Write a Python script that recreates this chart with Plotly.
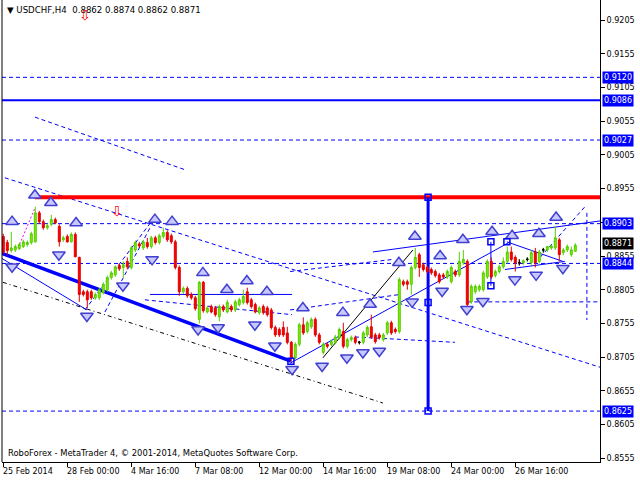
import plotly.graph_objects as go

# ---------------- data ----------------
bar_index = list(range(144))
opens = [0.8884, 0.8875, 0.8863, 0.8864, 0.8866, 0.8869, 0.8872, 0.8875, 0.8876, 0.8919,
         0.8906, 0.8897, 0.8902, 0.8909, 0.8899, 0.8879, 0.8884, 0.8876, 0.8887, 0.8853,
         0.8802, 0.8802, 0.8802, 0.8793, 0.8793, 0.8801, 0.8805, 0.8823, 0.8827, 0.8841,
         0.8838, 0.8847, 0.8838, 0.8864, 0.8873, 0.8867, 0.8875, 0.8869, 0.8882, 0.8875,
         0.8884, 0.8890, 0.8885, 0.8876, 0.8838, 0.8802, 0.8807, 0.8798, 0.8793, 0.8761,
         0.8816, 0.8772, 0.8780, 0.8778, 0.8765, 0.8780, 0.8772, 0.8780, 0.8775, 0.8783,
         0.8786, 0.8802, 0.8790, 0.8783, 0.8771, 0.8780, 0.8778, 0.8775, 0.8749, 0.8746,
         0.8749, 0.8741, 0.8727, 0.8704, 0.8724, 0.8753, 0.8743, 0.8750, 0.8761, 0.8738,
         0.8712, 0.8724, 0.8724, 0.8727, 0.8734, 0.8743, 0.8721, 0.8731, 0.8734, 0.8727,
         0.8727, 0.8738, 0.8750, 0.8738, 0.8738, 0.8731, 0.8741, 0.8756, 0.8746, 0.8743,
         0.8817, 0.8817, 0.8813, 0.8838, 0.8857, 0.8842, 0.8838, 0.8835, 0.8832, 0.8827,
         0.8827, 0.8824, 0.8817, 0.8832, 0.8827, 0.8845, 0.8847, 0.8787, 0.8802, 0.8805,
         0.8805, 0.8824, 0.8847, 0.8826, 0.8832, 0.8839, 0.8847, 0.8861, 0.8853, 0.8845,
         0.8845, 0.8850, 0.8845, 0.8861, 0.8847, 0.8864, 0.8864, 0.8867, 0.8867, 0.8879,
         0.8860, 0.8864, 0.8857, 0.8862]
highs = [0.8888, 0.8879, 0.8891, 0.8872, 0.8875, 0.8879, 0.8878, 0.8891, 0.8928, 0.8922,
         0.8909, 0.8903, 0.8916, 0.8912, 0.8902, 0.8885, 0.8887, 0.8890, 0.8890, 0.8854,
         0.8805, 0.8805, 0.8805, 0.8801, 0.8808, 0.8816, 0.8826, 0.8833, 0.8841, 0.8844,
         0.8847, 0.8853, 0.8870, 0.8878, 0.8876, 0.8879, 0.8882, 0.8885, 0.8885, 0.8888,
         0.8897, 0.8893, 0.8888, 0.8879, 0.8841, 0.8810, 0.8810, 0.8801, 0.8796, 0.8818,
         0.8818, 0.8781, 0.8783, 0.8781, 0.8783, 0.8783, 0.8790, 0.8783, 0.8790, 0.8793,
         0.8805, 0.8808, 0.8793, 0.8786, 0.8781, 0.8783, 0.8781, 0.8778, 0.8752, 0.8749,
         0.8758, 0.8750, 0.8729, 0.8727, 0.8756, 0.8764, 0.8759, 0.8764, 0.8764, 0.8741,
         0.8727, 0.8727, 0.8731, 0.8738, 0.8749, 0.8756, 0.8734, 0.8737, 0.8737, 0.8729,
         0.8744, 0.8752, 0.8768, 0.8741, 0.8741, 0.8741, 0.8759, 0.8759, 0.8749, 0.8823,
         0.8820, 0.8820, 0.8841, 0.8867, 0.8860, 0.8845, 0.8841, 0.8838, 0.8835, 0.8830,
         0.8830, 0.8835, 0.8841, 0.8835, 0.8861, 0.8864, 0.8850, 0.8813, 0.8813, 0.8813,
         0.8833, 0.8850, 0.8853, 0.8835, 0.8842, 0.8853, 0.8869, 0.8869, 0.8856, 0.8850,
         0.8850, 0.8853, 0.8864, 0.8867, 0.8864, 0.8867, 0.8870, 0.8872, 0.8899, 0.8882,
         0.8867, 0.8872, 0.8869, 0.8874]
lows = [0.8858, 0.8856, 0.8860, 0.8861, 0.8864, 0.8867, 0.8869, 0.8872, 0.8875, 0.8903,
        0.8894, 0.8894, 0.8899, 0.8902, 0.8869, 0.8876, 0.8875, 0.8875, 0.8853, 0.8787,
        0.8795, 0.8778, 0.8790, 0.8790, 0.8790, 0.8798, 0.8802, 0.8820, 0.8824, 0.8833,
        0.8823, 0.8835, 0.8835, 0.8861, 0.8867, 0.8864, 0.8866, 0.8866, 0.8872, 0.8872,
        0.8881, 0.8876, 0.8873, 0.8835, 0.8796, 0.8799, 0.8793, 0.8790, 0.8774, 0.8755,
        0.8771, 0.8770, 0.8770, 0.8765, 0.8758, 0.8772, 0.8770, 0.8772, 0.8772, 0.8780,
        0.8783, 0.8783, 0.8777, 0.8770, 0.8768, 0.8768, 0.8765, 0.8746, 0.8735, 0.8735,
        0.8735, 0.8724, 0.8698, 0.8701, 0.8721, 0.8738, 0.8740, 0.8747, 0.8735, 0.8724,
        0.8709, 0.8718, 0.8721, 0.8724, 0.8731, 0.8718, 0.8718, 0.8728, 0.8724, 0.8724,
        0.8724, 0.8735, 0.8732, 0.8725, 0.8731, 0.8728, 0.8738, 0.8738, 0.8740, 0.8740,
        0.8810, 0.8805, 0.8798, 0.8835, 0.8824, 0.8832, 0.8829, 0.8827, 0.8823, 0.8814,
        0.8821, 0.8821, 0.8814, 0.8824, 0.8824, 0.8842, 0.8780, 0.8784, 0.8799, 0.8802,
        0.8802, 0.8821, 0.8821, 0.8823, 0.8829, 0.8836, 0.8844, 0.8847, 0.8832, 0.8841,
        0.8842, 0.8847, 0.8842, 0.8838, 0.8844, 0.8860, 0.8861, 0.8864, 0.8864, 0.8847,
        0.8856, 0.8861, 0.8854, 0.8862]
closes = [0.8861, 0.8863, 0.8867, 0.8869, 0.8872, 0.8876, 0.8875, 0.8888, 0.8919, 0.8906,
          0.8897, 0.8900, 0.8909, 0.8904, 0.8876, 0.8882, 0.8876, 0.8887, 0.8854, 0.8798,
          0.8798, 0.8790, 0.8793, 0.8798, 0.8805, 0.8813, 0.8823, 0.8830, 0.8839, 0.8836,
          0.8842, 0.8839, 0.8867, 0.8875, 0.8870, 0.8876, 0.8869, 0.8882, 0.8875, 0.8885,
          0.8890, 0.8879, 0.8876, 0.8838, 0.8802, 0.8807, 0.8796, 0.8793, 0.8777, 0.8816,
          0.8774, 0.8778, 0.8772, 0.8768, 0.8780, 0.8775, 0.8786, 0.8775, 0.8787, 0.8790,
          0.8795, 0.8786, 0.8780, 0.8772, 0.8778, 0.8771, 0.8768, 0.8749, 0.8738, 0.8738,
          0.8738, 0.8727, 0.8704, 0.8724, 0.8753, 0.8741, 0.8756, 0.8761, 0.8738, 0.8727,
          0.8724, 0.8721, 0.8728, 0.8735, 0.8746, 0.8721, 0.8731, 0.8734, 0.8727, 0.8727,
          0.8741, 0.8749, 0.8735, 0.8728, 0.8734, 0.8738, 0.8756, 0.8741, 0.8743, 0.8820,
          0.8813, 0.8813, 0.8838, 0.8853, 0.8838, 0.8835, 0.8832, 0.8830, 0.8826, 0.8817,
          0.8824, 0.8832, 0.8838, 0.8827, 0.8847, 0.8850, 0.8783, 0.8810, 0.8810, 0.8810,
          0.8830, 0.8847, 0.8824, 0.8832, 0.8839, 0.8847, 0.8861, 0.8850, 0.8845, 0.8845,
          0.8848, 0.8850, 0.8860, 0.8845, 0.8861, 0.8864, 0.8869, 0.8870, 0.8882, 0.8857,
          0.8864, 0.8869, 0.8864, 0.8871]

x_tick_bars = [0, 16, 32, 48, 64, 80, 96, 112, 128]
x_tick_labels = ["25 Feb 2014", "28 Feb 00:00", "4 Mar 16:00", "7 Mar 08:00", "12 Mar 00:00",
                 "14 Mar 16:00", "19 Mar 08:00", "24 Mar 00:00", "26 Mar 16:00"]
y_tick_values = [0.8555, 0.8605, 0.8655, 0.8705, 0.8755, 0.8805, 0.8855, 0.8905,
                 0.8955, 0.9005, 0.9055, 0.9105, 0.9155, 0.9205]
y_tick_hidden = [0.8905]   # covered by the 0.8903 price label in the reference

dashed_levels = [0.9120, 0.9027, 0.8903, 0.8844, 0.8625]
solid_level = 0.9086
red_level = 0.8942
red_level_start = 7.9
label_levels = [0.9120, 0.9086, 0.9027, 0.8903, 0.8844, 0.8625]
last_price = 0.8871
title_text = "▼ USDCHF,H4  0.8862 0.8874 0.8862 0.8871"
footer_text = "RoboForex - MetaTrader 4, © 2001-2014, MetaQuotes Software Corp."

# analysis objects: (bar0, price0, bar1, price1)
thick_trend = [(-0.8, 0.8860, 71.9, 0.8699)]
vertical_thick = [(106.2, 0.8942, 106.2, 0.8625)]
thin_solid = [(-0.8, 0.8853, 20.9, 0.8775), (36.7, 0.8798, 72.2, 0.8798),
              (71.7, 0.8696, 126.7, 0.8876), (92.4, 0.8861, 149.2, 0.8907),
              (125.9, 0.8876, 139.9, 0.8847), (125.4, 0.8835, 140.4, 0.8847),
              (121.9, 0.8876, 121.9, 0.8811)]
black_solid = [(79.9, 0.8704, 102.4, 0.8864)]
black_dashdot = [(-0.1, 0.8816, 94.9, 0.8637)]
magenta_dot = [(3.7, 0.8867, 7.9, 0.8926)]
dashed_diag = [(7.9, 0.9061, 45.4, 0.8983), (0.4, 0.8971, 149.2, 0.8690),
               (20.4, 0.8775, 37.9, 0.8913), (25.4, 0.8772, 36.7, 0.8897),
               (35.4, 0.8790, 72.2, 0.8768), (116.0, 0.8787, 149.2, 0.8787),
               (145.9, 0.8919, 145.9, 0.8760), (134.2, 0.8853, 145.4, 0.8928),
               (87.9, 0.8735, 112.9, 0.8727), (71.7, 0.8775, 99.2, 0.8798),
               (71.7, 0.8832, 97.4, 0.8850)]
square_bars = [121.9, 121.9, 125.9, 71.9, 106.2, 106.2, 106.2]
square_prices = [0.8876, 0.8811, 0.8876, 0.8699, 0.8942, 0.8786, 0.8625]

up_arrow_bars = [7.9, 11.9, 2.2, 18.2, 37.9, 42.2, 49.9, 55.9, 60.9, 65.9, 74.9, 84.9,
                 91.7, 98.9, 102.9, 109.2, 114.9, 122.2, 127.2, 133.9, 138.2]
up_arrow_prices = [0.8945, 0.8934, 0.8906, 0.8904, 0.8909, 0.8906, 0.8830, 0.8805, 0.8818,
                   0.8802, 0.8778, 0.8771, 0.8783, 0.8845, 0.8884, 0.8855, 0.8879, 0.8891,
                   0.8885, 0.8888, 0.8912]
down_arrow_bars = [2.2, 13.9, 20.9, 29.9, 37.2, 48.7, 53.7, 62.9, 67.9, 72.2, 79.7, 85.9,
                   89.9, 94.0, 102.2, 109.7, 115.9, 119.9, 127.9, 133.2, 139.9]
down_arrow_prices = [0.8839, 0.8857, 0.8766, 0.8811, 0.8850, 0.8746, 0.8749, 0.8753, 0.8722,
                     0.8687, 0.8692, 0.8704, 0.8712, 0.8714, 0.8787, 0.8803, 0.8776, 0.8788,
                     0.8820, 0.8827, 0.8837]
red_arrow_marks = [(28.4, 0.8922), (20.4, 0.9212)]

# ---------------- figure ----------------
FONT = "DejaVu Sans"
BLUE = "#0000ff"
fig = go.Figure()

shapes = []
def seg(x0, y0, x1, y1, color, width, dash="solid"):
    shapes.append(dict(type="line", xref="x", yref="y", x0=x0, y0=y0, x1=x1, y1=y1,
                       line=dict(color=color, width=width, dash=dash), layer="below"))

for lv in dashed_levels:
    shapes.append(dict(type="line", xref="paper", yref="y", x0=0, x1=1, y0=lv, y1=lv,
                       line=dict(color=BLUE, width=1, dash="4px,3px"), layer="below"))
shapes.append(dict(type="line", xref="paper", yref="y", x0=0, x1=1, y0=solid_level, y1=solid_level,
                   line=dict(color=BLUE, width=2), layer="below"))
for s in dashed_diag:
    seg(*s, BLUE, 1, "4px,3px")
for s in thin_solid:
    seg(*s, BLUE, 1)
for s in black_dashdot:
    seg(*s, "black", 1, "4px,3px,1px,3px")
for s in black_solid:
    seg(*s, "black", 1)
for s in magenta_dot:
    seg(*s, "#ff00ff", 1, "2px,2px")
for s in thick_trend:
    seg(*s, BLUE, 3.5)
shapes.append(dict(type="line", xref="x", yref="y", x0=red_level_start, x1=149.175,
                   y0=red_level, y1=red_level, line=dict(color="#ff0000", width=4), layer="below"))
for s in vertical_thick:
    seg(*s, BLUE, 3)
# left border
shapes.append(dict(type="line", xref="paper", yref="paper", x0=0, x1=0, y0=0, y1=1,
                   line=dict(color="black", width=1)))

fig.add_trace(go.Candlestick(
    x=bar_index, open=opens, high=highs, low=lows, close=closes,
    increasing=dict(line=dict(color="#55cc00", width=1), fillcolor="#80f000"),
    decreasing=dict(line=dict(color="#e00000", width=1), fillcolor="#ff0000"),
    whiskerwidth=0, showlegend=False, hoverinfo="skip"))

doji = [i for i in bar_index if opens[i] == closes[i]]
fig.add_trace(go.Candlestick(
    x=doji, open=[opens[i] for i in doji], high=[highs[i] for i in doji],
    low=[lows[i] for i in doji], close=[closes[i] for i in doji],
    increasing=dict(line=dict(color="black", width=1), fillcolor="black"),
    decreasing=dict(line=dict(color="black", width=1), fillcolor="black"),
    whiskerwidth=0, showlegend=False, hoverinfo="skip"))

fig.add_trace(go.Scatter(x=up_arrow_bars, y=up_arrow_prices, mode="markers",
                         marker=dict(symbol="triangle-up", size=11, color="#c8c8ff",
                                     line=dict(color="#4040d0", width=1.5)),
                         showlegend=False, hoverinfo="skip"))
fig.add_trace(go.Scatter(x=down_arrow_bars, y=down_arrow_prices, mode="markers",
                         marker=dict(symbol="triangle-down", size=11, color="#c8c8ff",
                                     line=dict(color="#4040d0", width=1.5)),
                         showlegend=False, hoverinfo="skip"))
fig.add_trace(go.Scatter(x=square_bars, y=square_prices, mode="markers",
                         marker=dict(symbol="square-open", size=6, color=BLUE,
                                     line=dict(color=BLUE, width=1.5)),
                         showlegend=False, hoverinfo="skip"))

ann = []
for lv in label_levels:
    ann.append(dict(x=1, xref="paper", y=lv, yref="y", xanchor="left", yanchor="middle",
                    xshift=2, text=f"{lv:.4f}", showarrow=False, bgcolor=BLUE, borderpad=1,
                    font=dict(family=FONT, size=8, color="white")))
ann.append(dict(x=1, xref="paper", y=last_price, yref="y", xanchor="left", yanchor="middle",
                xshift=2, yshift=2, text=f"{last_price:.4f}", showarrow=False, bgcolor="black",
                borderpad=1, font=dict(family=FONT, size=8, color="white")))
for b, lab in zip(x_tick_bars, x_tick_labels):
    ann.append(dict(x=b, xref="x", y=0, yref="paper", xanchor="left", yanchor="top",
                    xshift=-2, yshift=-3, text=lab, showarrow=False,
                    font=dict(family=FONT, size=8, color="black")))
ann.append(dict(x=0, xref="paper", y=1, yref="paper", xanchor="left", yanchor="top",
                xshift=3, yshift=-3, text=title_text, showarrow=False,
                font=dict(family=FONT, size=8.6, color="black")))
ann.append(dict(x=0, xref="paper", y=0, yref="paper", xanchor="left", yanchor="bottom",
                xshift=4, yshift=2, text=footer_text, showarrow=False,
                font=dict(family=FONT, size=8.4, color="black")))
for bx, py in red_arrow_marks:
    ann.append(dict(x=bx, xref="x", y=py, yref="y", text="⇩", showarrow=False,
                    font=dict(family=FONT, size=14, color="#ff0000")))

fig.update_layout(
    width=640, height=480, margin=dict(l=2, r=40, t=0, b=18),
    paper_bgcolor="white", plot_bgcolor="white",
    shapes=shapes, annotations=ann, showlegend=False,
    xaxis=dict(range=[-0.325, 149.175], tickvals=x_tick_bars, showticklabels=False,
               ticks="outside", ticklen=4, tickcolor="black", showline=True,
               linecolor="black", linewidth=1, showgrid=False, zeroline=False,
               rangeslider=dict(visible=False), fixedrange=True),
    yaxis=dict(range=[0.85495, 0.92347], side="right", tickvals=y_tick_values,
               ticktext=["" if v in y_tick_hidden else f"{v:.4f}" for v in y_tick_values],
               ticks="outside", ticklen=4,
               tickcolor="black", showline=True, linecolor="black", linewidth=1,
               showgrid=False, zeroline=False, fixedrange=True,
               tickfont=dict(family=FONT, size=8, color="black")),
)

fig.write_html("out.html", config={"displayModeBar": False},
               post_script="document.body.style.margin='0';document.body.style.overflow='hidden';")
